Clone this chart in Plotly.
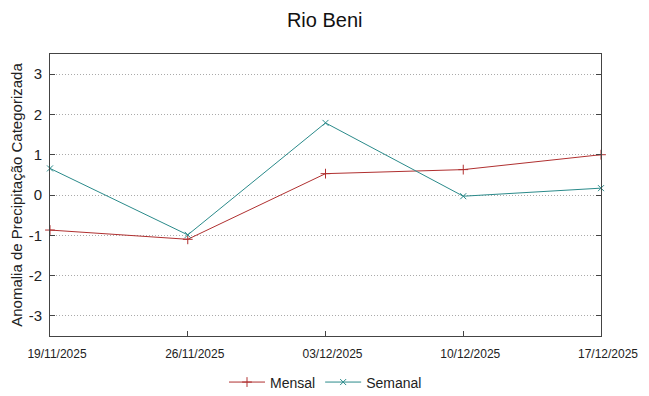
import plotly.graph_objects as go

dates = ["19/11/2025", "26/11/2025", "03/12/2025", "10/12/2025", "17/12/2025"]
mensal = [-0.87, -1.1, 0.53, 0.63, 1.0]
semanal = [0.66, -0.99, 1.79, -0.03, 0.17]
y_ticks = [-3, -2, -1, 0, 1, 2, 3]
y_ticklabels = ["-3", "-2", "-1", "0", "1", "2", "3"]

red = "#b03030"
teal = "#2a8a8a"

fig = go.Figure()
fig.add_trace(go.Scatter(
    x=dates, y=mensal, name="Mensal", mode="lines+markers",
    line=dict(color=red, width=1),
    marker=dict(symbol="cross-thin", size=7, line=dict(color=red, width=1)),
    cliponaxis=False,
))
fig.add_trace(go.Scatter(
    x=dates, y=semanal, name="Semanal", mode="lines+markers",
    line=dict(color=teal, width=1),
    marker=dict(symbol="x-thin", size=6, line=dict(color=teal, width=1)),
    cliponaxis=False,
))

# page body has an 8px margin: offsets compensate for it
fig.update_layout(
    width=649, height=396,
    margin=dict(l=42, r=56, t=46, b=68, autoexpand=False),
    paper_bgcolor="white", plot_bgcolor="white",
    font=dict(family="Liberation Sans, Arial, sans-serif", color="#222222"),
    title=dict(text="Rio Beni", x=0.488, xanchor="center", y=0.97, yanchor="middle",
               font=dict(size=20, color="#111111")),
    showlegend=True,
    legend=dict(orientation="h", x=0.5, xanchor="center", y=-0.108, yanchor="top",
                font=dict(size=14), itemwidth=36, bgcolor="rgba(0,0,0,0)"),
)
fig.update_xaxes(
    type="category", range=[0, 4], tickvals=dates, ticktext=dates,
    showgrid=False, zeroline=False, automargin=False,
    showline=True, linecolor="#444444", linewidth=1, mirror=True,
    ticks="inside", ticklen=5, tickcolor="#444444",
    ticklabelstandoff=7, ticklabelshift=7,
    tickfont=dict(size=12, family="Liberation Sans Narrow, Liberation Sans, Arial"),
)
fig.update_yaxes(
    range=[-3.5, 3.5], tickvals=y_ticks, ticktext=y_ticklabels, automargin=False,
    showgrid=True, gridcolor="#aaaaaa", griddash="1px,2px", gridwidth=1,
    zeroline=False,
    showline=True, linecolor="#444444", linewidth=1, mirror="allticks",
    ticks="inside", ticklen=5, tickcolor="#444444",
    ticklabelstandoff=4,
    tickfont=dict(size=15),
    title=dict(text="Anomalia de Precipitação Categorizada", font=dict(size=15), standoff=6),
)

fig.write_html("out.html")
